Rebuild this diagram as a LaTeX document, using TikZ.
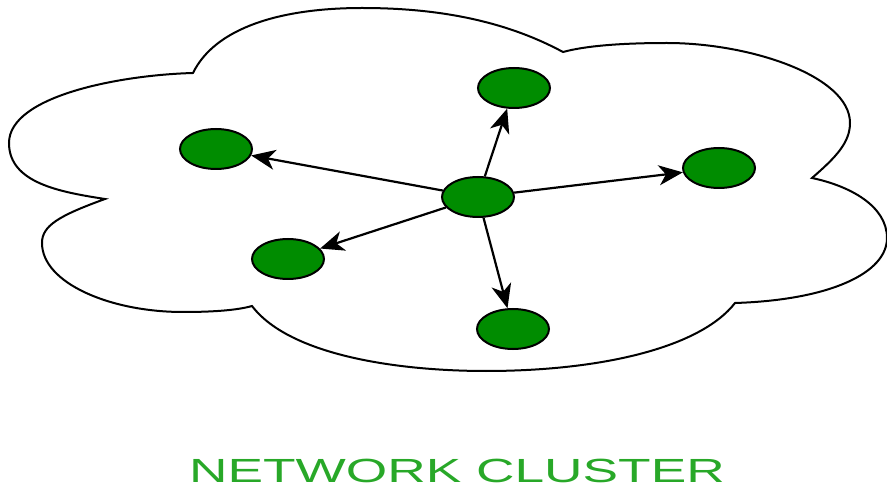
\documentclass[tikz,border=0pt]{standalone}
\usepackage{fontspec}
\setmainfont{Liberation Sans}
\usepackage{xcolor}
\usetikzlibrary{arrows.meta,shapes.geometric}

\definecolor{hostgreen}{RGB}{0,140,0}
\definecolor{titlegreen}{RGB}{40,168,40}

\begin{document}
\begin{tikzpicture}[
		x=1pt, y=1pt,
		host/.style={draw=black, fill=hostgreen, ellipse, line width=2pt,
				minimum width=72pt, minimum height=40pt, inner sep=0pt},
		link/.style={draw, line width=2.2pt, -{Stealth[length=24pt,width=20pt,inset=7pt]}},
		every node/.style={font=\small}
	]
	\useasboundingbox (0,0) rectangle (887,488);

	% the cloud
	\draw[line width=2pt]
	(193,415) .. controls (120,413) and (9,392) .. (9,345)
	.. controls (9,305) and (60,296) .. (105,289)
	.. controls (58,272) and (42,262) .. (42,245)
	.. controls (42,205) and (110,176) .. (183,176)
	.. controls (215,176) and (238,178) .. (252,182)
	.. controls (290,132) and (400,117) .. (486,117)
	.. controls (600,117) and (700,140) .. (735,185)
	.. controls (830,188) and (887,215) .. (887,250)
	.. controls (887,282) and (850,302) .. (812,310)
	.. controls (835,330) and (850,345) .. (850,365)
	.. controls (850,412) and (750,445) .. (667,445)
	.. controls (620,445) and (585,442) .. (563,436)
	.. controls (500,470) and (430,480) .. (362,480)
	.. controls (280,480) and (215,460) .. cycle;

	\node[host] (hub) at (478,291) {};
	\node[host] (top) at (514,400) {};
	\node[host] (upleft) at (216,339) {};
	\node[host] (right) at (719,320) {};
	\node[host] (lowleft) at (288,229) {};
	\node[host] (bottom) at (513,159) {};

	\draw[link] (hub) -- (top);
	\draw[link] (hub) -- (upleft);
	\draw[link] (hub) -- (right);
	\draw[link] (hub) -- (lowleft);
	\draw[link] (hub) -- (bottom);

	\node[anchor=base, xscale=1.59, transform shape, text=titlegreen,
		font=\fontsize{33.5}{36}\selectfont, inner sep=0pt] (title) at (457,6) {NETWORK CLUSTER};

\end{tikzpicture}
\end{document}
